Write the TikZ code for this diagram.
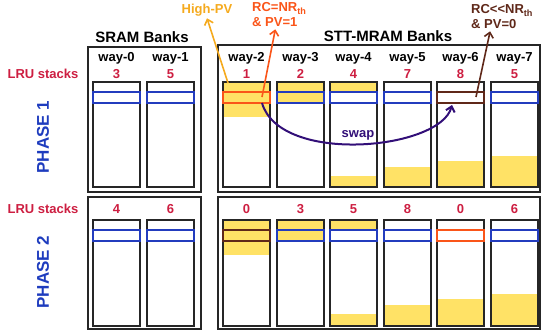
\documentclass[tikz,border=0pt]{standalone}
\usepackage{fontspec}
\setmainfont{Liberation Sans}
\usetikzlibrary{arrows.meta}
\definecolor{cache@yellow}{RGB}{255,226,102}
\definecolor{cache@blue}{RGB}{35,60,190}
\definecolor{cache@orange}{RGB}{250,85,25}
\definecolor{cache@brown}{RGB}{95,40,25}
\definecolor{cache@gold}{RGB}{245,170,30}
\definecolor{cache@red}{RGB}{205,30,65}
\definecolor{cache@phase}{RGB}{30,60,190}
\definecolor{cache@swap}{RGB}{50,15,120}

\tikzset{
  bankbox/.style={draw=black!85, line width=2.3pt},
  waybox/.style={draw=black!85, line width=2.2pt},
  setrow/.style={draw=#1, line width=2.4pt},
  hitfill/.style={fill=cache@yellow},
  banktitle/.style={font=\bfseries\fontsize{15pt}{17pt}\selectfont},
  wayname/.style={font=\bfseries\fontsize{13pt}{15pt}\selectfont},
  lrunum/.style={text=cache@red, font=\bfseries\fontsize{13pt}{15pt}\selectfont},
  phasename/.style={rotate=90, text=cache@phase, font=\bfseries\fontsize{17pt}{19pt}\selectfont},
  annot/.style={align=left, inner sep=2pt, font=\bfseries\fontsize{13pt}{15pt}\selectfont},
  annotarrow/.style={-{Straight Barb[length=5pt,width=9pt]}, line width=1.6pt},
}

\begin{document}
\begin{tikzpicture}[x=1pt,y=-1pt]
\useasboundingbox (0,0) rectangle (543,335);

% PHASE 1
\node[phasename] (phase1) at (43,137) {PHASE 1};
\node[lrunum] (lru1) at (43,74) {LRU stacks};

\draw[bankbox] (88,47) rectangle (201,192);
\draw[bankbox] (218,45) rectangle (540,192);
\node[banktitle] (sram) at (142,37) {SRAM Banks};
\node[banktitle] (stt) at (388,36) {STT-MRAM Banks};

\node[wayname] (w0) at (116.5,58) {way-0};
\node[wayname] (w1) at (170.5,58) {way-1};
\node[wayname] (w2) at (246.5,58) {way-2};
\node[wayname] (w3) at (300.5,58) {way-3};
\node[wayname] (w4) at (353.5,58) {way-4};
\node[wayname] (w5) at (407.5,58) {way-5};
\node[wayname] (w6) at (460.5,58) {way-6};
\node[wayname] (w7) at (514.5,58) {way-7};

\node[lrunum] (p1l0) at (116.5,74) {3};
\node[lrunum] (p1l1) at (170.5,74) {5};
\node[lrunum] (p1l2) at (246.5,74) {1};
\node[lrunum] (p1l3) at (300.5,74) {2};
\node[lrunum] (p1l4) at (353.5,74) {4};
\node[lrunum] (p1l5) at (407.5,74) {7};
\node[lrunum] (p1l6) at (460.5,74) {8};
\node[lrunum] (p1l7) at (514.5,74) {5};

% SRAM ways
\draw[waybox] (93,82) rectangle ++(47,105);
\draw[setrow=cache@blue] (93,92) rectangle ++(47,11);
\draw[waybox] (147,82) rectangle ++(47,105);
\draw[setrow=cache@blue] (147,92) rectangle ++(47,11);

% way-2
\fill[hitfill] (223,82) rectangle ++(47,35);
\draw[waybox] (223,82) rectangle ++(47,105);
\draw[setrow=cache@orange] (223,92) rectangle ++(47,11);
% way-3
\fill[hitfill] (277,82) rectangle ++(47,21);
\draw[waybox] (277,82) rectangle ++(47,105);
\draw[setrow=cache@blue] (277,92) rectangle ++(47,11);
% way-4
\fill[hitfill] (330,82) rectangle ++(47,10);
\fill[hitfill] (330,176) rectangle (377,187);
\draw[waybox] (330,82) rectangle ++(47,105);
\draw[setrow=cache@blue] (330,92) rectangle ++(47,11);
% way-5
\fill[hitfill] (384,167) rectangle (431,187);
\draw[waybox] (384,82) rectangle ++(47,105);
\draw[setrow=cache@blue] (384,92) rectangle ++(47,11);
% way-6
\fill[hitfill] (437,161) rectangle (484,187);
\draw[waybox] (437,82) rectangle ++(47,105);
\draw[setrow=cache@brown] (437,92) rectangle ++(47,11);
% way-7
\fill[hitfill] (491,156) rectangle (538,187);
\draw[waybox] (491,82) rectangle ++(47,105);
\draw[setrow=cache@blue] (491,92) rectangle ++(47,11);

% annotations
\node[annot, text=cache@gold] (highpv) at (207,10) {High-PV};
\node[annot, text=cache@orange, anchor=west] (rcnr) at (250,15) {RC=NR\textsubscript{th}\\\& PV=1};
\node[annot, text=cache@brown, anchor=west] (rcll) at (469,17) {RC<{}<NR\textsubscript{th}\\\& PV=0};

\coordinate (pvfrom) at (228,83);
\coordinate (rcfrom) at (262,97);
\coordinate (llfrom) at (476,97);
\draw[annotarrow, cache@gold] (pvfrom) -- (highpv.south);
\draw[annotarrow, cache@orange] (rcfrom) -- ([xshift=-4pt]rcnr.south);
\draw[annotarrow, cache@brown] (llfrom) -- ([xshift=-12pt]rcll.south);

% swap
\coordinate (swapfrom) at (262,103);
\coordinate (swapto) at (452,105);
\draw[annotarrow, cache@swap, line width=2pt] (swapfrom) .. controls (280,165) and (440,150) .. (swapto);
\node[annot, text=cache@swap] (swaplbl) at (358,135) {swap};

% PHASE 2
\begin{scope}[shift={(0,138)}]
  \node[phasename] (phase2) at (43,134) {PHASE 2};
  \node[lrunum] (lru2) at (43,71) {LRU stacks};

  \draw[bankbox] (88,59) rectangle (201,191);
  \draw[bankbox] (218,59) rectangle (540,191);

  \node[lrunum] (p2l0) at (116.5,71) {4};
  \node[lrunum] (p2l1) at (170.5,71) {6};
  \node[lrunum] (p2l2) at (246.5,71) {0};
  \node[lrunum] (p2l3) at (300.5,71) {3};
  \node[lrunum] (p2l4) at (353.5,71) {5};
  \node[lrunum] (p2l5) at (407.5,71) {8};
  \node[lrunum] (p2l6) at (460.5,71) {0};
  \node[lrunum] (p2l7) at (514.5,71) {6};

  % SRAM ways
  \draw[waybox] (93,82) rectangle ++(47,106);
  \draw[setrow=cache@blue] (93,92) rectangle ++(47,11);
  \draw[waybox] (147,82) rectangle ++(47,106);
  \draw[setrow=cache@blue] (147,92) rectangle ++(47,11);

  % way-2
  \fill[hitfill] (223,82) rectangle ++(47,35);
  \draw[waybox] (223,82) rectangle ++(47,106);
  \draw[setrow=cache@brown] (223,92) rectangle ++(47,11);
  % way-3
  \fill[hitfill] (277,82) rectangle ++(47,22);
  \draw[waybox] (277,82) rectangle ++(47,106);
  \draw[setrow=cache@blue] (277,92) rectangle ++(47,11);
  % way-4
  \fill[hitfill] (330,82) rectangle ++(47,10);
  \fill[hitfill] (330,176) rectangle (377,188);
  \draw[waybox] (330,82) rectangle ++(47,106);
  \draw[setrow=cache@blue] (330,92) rectangle ++(47,11);
  % way-5
  \fill[hitfill] (384,167) rectangle (431,188);
  \draw[waybox] (384,82) rectangle ++(47,106);
  \draw[setrow=cache@blue] (384,92) rectangle ++(47,11);
  % way-6
  \fill[hitfill] (437,161) rectangle (484,188);
  \draw[waybox] (437,82) rectangle ++(47,106);
  \draw[setrow=cache@orange] (437,92) rectangle ++(47,11);
  % way-7
  \fill[hitfill] (491,156) rectangle (538,188);
  \draw[waybox] (491,82) rectangle ++(47,106);
  \draw[setrow=cache@blue] (491,92) rectangle ++(47,11);
\end{scope}

\end{tikzpicture}
\end{document}
